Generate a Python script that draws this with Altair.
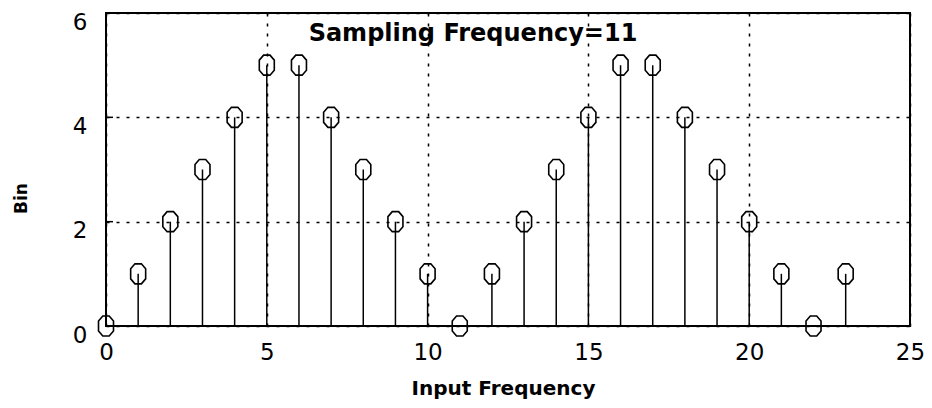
import altair as alt
import pandas as pd

# ---- data ----
freqs = list(range(24))
bins = [0, 1, 2, 3, 4, 5, 5, 4, 3, 2, 1, 0, 1, 2, 3, 4, 5, 5, 4, 3, 2, 1, 0, 1]
x_ticks = [0, 5, 10, 15, 20, 25]
y_ticks = [0, 2, 4, 6]
title_text = "Sampling Frequency=11"
x_title = "Input Frequency"
y_title = "Bin"

df = pd.DataFrame({"f": freqs, "b": bins})
ticks_df = pd.DataFrame({"t": y_ticks})
title_df = pd.DataFrame({"t": [title_text]})

xs = alt.Scale(domain=[0, 25], nice=False, zero=False)
ys = alt.Scale(domain=[0, 6], nice=False, zero=False)

x_axis = alt.Axis(
    values=x_ticks, title=x_title, grid=True, gridDash=[3, 7], gridColor="black",
    gridWidth=1.5, gridOpacity=1, ticks=False, domain=False,
    labelFont="DejaVu Sans", labelFontSize=23, labelColor="black", labelPadding=15,
    labelFlush=False,
    titleFont="DejaVu Sans", titleFontWeight="bold", titleFontSize=20, titleColor="black",
    titleX=397, titleY=68, titleBaseline="alphabetic", titleAlign="center",
)
y_axis = alt.Axis(
    values=y_ticks, title=y_title, grid=True, gridDash=[3, 7], gridColor="black",
    gridWidth=1.5, gridOpacity=1, ticks=False, domain=False,
    labelFont="DejaVu Sans", labelFontSize=23, labelColor="black", labelPadding=19,
    labelBaseline="middle", labelOffset=9, labelFlush=False,
    titleFont="DejaVu Sans", titleFontWeight="bold", titleFontSize=17, titleColor="black",
    titleAngle=270, titleX=-85, titleY=185, titleBaseline="middle", titleAlign="center",
)

stems = alt.Chart(df).mark_rule(color="black", strokeWidth=1.5).encode(
    x=alt.X("f:Q", scale=xs, axis=x_axis),
    y=alt.Y("b:Q", scale=ys, axis=y_axis),
    y2=alt.datum(0),
)

octagon = "M-0.32,-1L0.32,-1L0.75,-0.5L0.75,0.5L0.32,1L-0.32,1L-0.75,0.5L-0.75,-0.5Z"
points = alt.Chart(df).mark_point(
    shape=octagon, filled=False, color="black", size=400, strokeWidth=1.6, opacity=1
).encode(
    x=alt.X("f:Q", scale=xs, title=x_title),
    y=alt.Y("b:Q", scale=ys, title=y_title),
)

left_ticks = alt.Chart(ticks_df).mark_rule(color="black", strokeWidth=1.5).encode(
    x=alt.value(0), x2=alt.value(7),
    y=alt.Y("t:Q", scale=ys, title=y_title),
)

title = alt.Chart(title_df).mark_text(
    font="DejaVu Sans", fontWeight="bold", fontSize=24, color="black",
    align="center", baseline="alphabetic",
).encode(text="t:N", x=alt.value(367), y=alt.value(28))

chart = alt.layer(stems, left_ticks, points, title).properties(
    width=804, height=313,
    background="white",
    autosize=alt.AutoSizeParams(type="none"),
    padding={"left": 98, "top": 5, "right": 14, "bottom": 74},
).configure_view(stroke="black", strokeWidth=2)

chart.save("out.html", embed_options={"renderer": "svg", "actions": False})
